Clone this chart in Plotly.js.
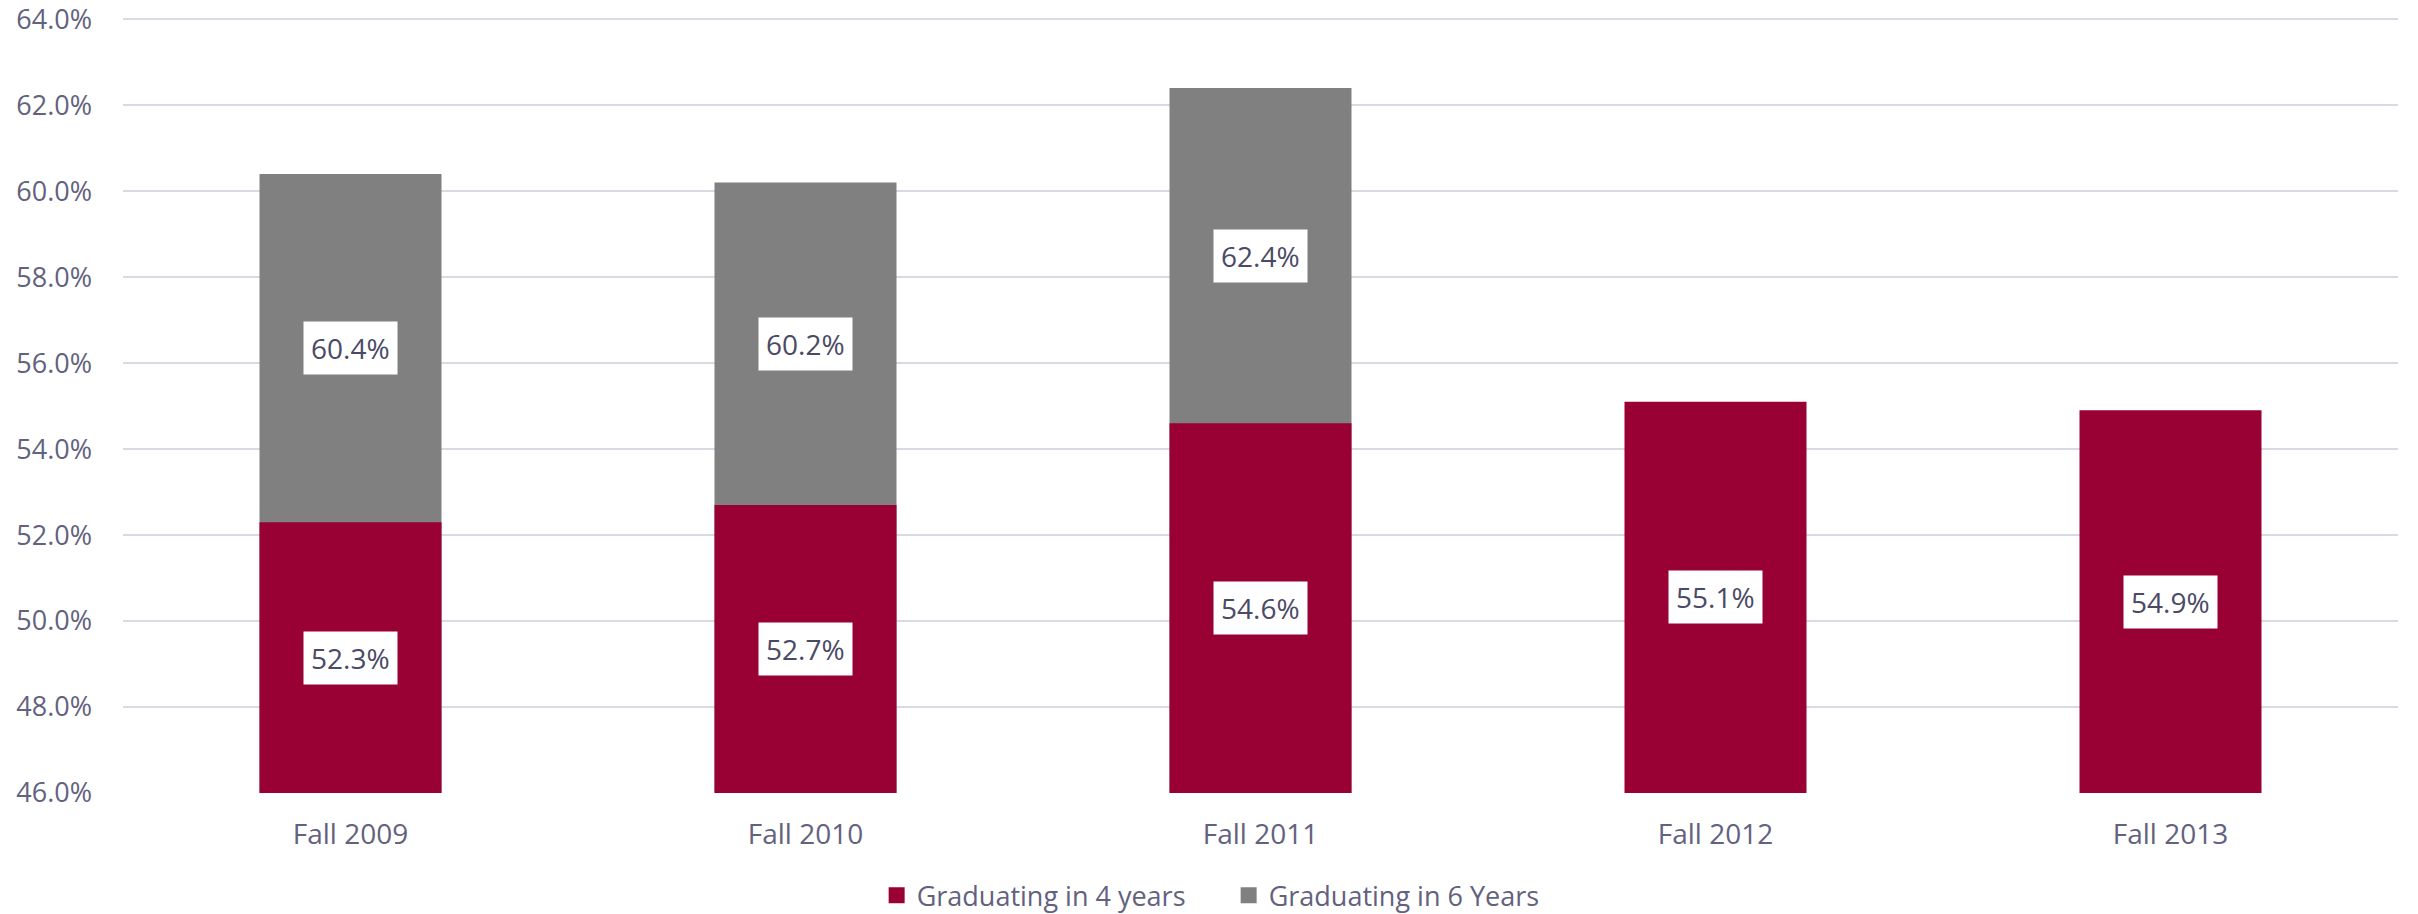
<!DOCTYPE html>
<html>
<head>
<meta charset="utf-8">
<script src="https://cdn.plot.ly/plotly-3.0.1.min.js"></script>
<style>
  html, body { margin: 0; padding: 0; background: #ffffff; }
  #chart { width: 2418px; height: 914px; }
</style>
</head>
<body>
<div id="chart"></div>
<script>
const categories = ["Fall 2009", "Fall 2010", "Fall 2011", "Fall 2012", "Fall 2013"];
const grad4 = [52.3, 52.7, 54.6, 55.1, 54.9];
const grad6 = [60.4, 60.2, 62.4, null, null];
const seriesNames = ["Graduating in 4 years", "Graduating in 6 Years"];
const yTickVals = [46, 48, 50, 52, 54, 56, 58, 60, 62, 64];
const yMin = 46, yMax = 64;

const FONT = "Open Sans, sans-serif";
const TXT = "#62627e";
const LBL = "#4a4a66";
const C4 = "#990033";
const C6 = "#808080";

const traces = [
  {
    type: "bar", name: seriesNames[1], x: categories, y: grad6,
    marker: { color: C6 }, hoverinfo: "skip", showlegend: false
  },
  {
    type: "bar", name: seriesNames[0], x: categories, y: grad4,
    marker: { color: C4 }, hoverinfo: "skip", showlegend: false
  },
  {
    type: "scatter", mode: "markers", name: seriesNames[0], x: [null], y: [null],
    marker: { symbol: "square", size: 16, color: C4 }, showlegend: true
  },
  {
    type: "scatter", mode: "markers", name: seriesNames[1], x: [null], y: [null],
    marker: { symbol: "square", size: 16, color: C6 }, showlegend: true
  }
];

const annotations = [];
categories.forEach((c, i) => {
  annotations.push({
    x: c, y: (yMin + grad4[i]) / 2, xref: "x", yref: "y",
    text: grad4[i].toFixed(1) + "%", showarrow: false,
    bgcolor: "#ffffff", borderpad: 7,
    font: { family: FONT, size: 28, color: LBL }
  });
  if (grad6[i] !== null) {
    annotations.push({
      x: c, y: (grad4[i] + grad6[i]) / 2, xref: "x", yref: "y",
      text: grad6[i].toFixed(1) + "%", showarrow: false,
      bgcolor: "#ffffff", borderpad: 7,
      font: { family: FONT, size: 28, color: LBL }
    });
  }
});

const layout = {
  width: 2418, height: 914,
  margin: { l: 123, r: 20, t: 17, b: 121 },
  paper_bgcolor: "#ffffff", plot_bgcolor: "#ffffff",
  barmode: "overlay", bargap: 0.6,
  font: { family: FONT, size: 28, color: TXT },
  xaxis: {
    type: "category", showgrid: false, zeroline: false, showline: false,
    ticks: "", tickfont: { family: FONT, size: 28, color: TXT },
    ticklabelstandoff: 22, fixedrange: true
  },
  yaxis: {
    range: [yMin, yMax + 0.05], tickvals: yTickVals,
    ticktext: yTickVals.map(v => v.toFixed(1) + "%"),
    showgrid: true, gridcolor: "#d9d9e1", gridwidth: 2,
    zeroline: false, showline: false, ticks: "",
    tickfont: { family: FONT, size: 27, color: TXT },
    ticklabelstandoff: 30, ticklabeloverflow: "allow", fixedrange: true
  },
  showlegend: true,
  legend: {
    orientation: "h", x: 0.486, xanchor: "center",
    yref: "container", y: 0.02, yanchor: "middle",
    font: { family: FONT, size: 27, color: TXT },
    itemclick: false, itemdoubleclick: false, itemwidth: 30,
    entrywidth: 307
  },
  annotations: annotations
};

Plotly.newPlot("chart", traces, layout, { displayModeBar: false, staticPlot: true });
</script>
</body>
</html>
